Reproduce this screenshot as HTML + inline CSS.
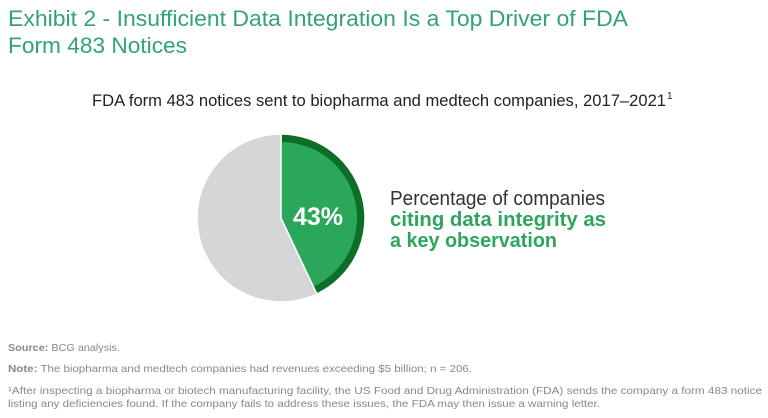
<!DOCTYPE html>
<html><head><meta charset="utf-8"><style>
html,body{margin:0;padding:0;background:#fff;}
svg{display:block;font-family:"Liberation Sans",sans-serif;}
</style></head><body>
<svg width="768" height="418" viewBox="0 0 768 418">
<text x="8" y="26" font-size="22" fill="#32a474" textLength="620" lengthAdjust="spacingAndGlyphs">Exhibit 2 - Insufficient Data Integration Is a Top Driver of FDA</text>
<text x="8" y="53" font-size="22" fill="#32a474" textLength="179" lengthAdjust="spacingAndGlyphs">Form 483 Notices</text>
<text x="92" y="106" font-size="17" fill="#222" textLength="574" lengthAdjust="spacingAndGlyphs">FDA form 483 notices sent to biopharma and medtech companies, 2017–2021</text>
<text x="667" y="99" font-size="10" fill="#222">1</text>
<g id="pie"></g>
<text x="318" y="225" font-size="25" font-weight="bold" fill="#fff" text-anchor="middle">43%</text>
<text x="390" y="205" font-size="20" fill="#333" textLength="215" lengthAdjust="spacingAndGlyphs">Percentage of companies</text>
<text x="390" y="226" font-size="20" font-weight="bold" fill="#2ea55c" textLength="216" lengthAdjust="spacingAndGlyphs">citing data integrity as</text>
<text x="390" y="247" font-size="20" font-weight="bold" fill="#2ea55c" textLength="167" lengthAdjust="spacingAndGlyphs">a key observation</text>
<text x="8" y="351" font-size="10.5" fill="#888" textLength="112" lengthAdjust="spacingAndGlyphs"><tspan font-weight="bold">Source:</tspan> BCG analysis.</text>
<text x="8" y="372" font-size="10.5" fill="#888" textLength="464" lengthAdjust="spacingAndGlyphs"><tspan font-weight="bold">Note:</tspan> The biopharma and medtech companies had revenues exceeding $5 billion; n = 206.</text>
<text x="8" y="394" font-size="10.5" fill="#888" textLength="754" lengthAdjust="spacingAndGlyphs">¹After inspecting a biopharma or biotech manufacturing facility, the US Food and Drug Administration (FDA) sends the company a form 483 notice</text>
<text x="8" y="407" font-size="10.5" fill="#888" textLength="592" lengthAdjust="spacingAndGlyphs">listing any deficiencies found. If the company fails to address these issues, the FDA may then issue a warning letter.</text>
</svg>
<script>
const categories = ["Citing data integrity", "Other"];
const values = [43, 57];
const cx = 281, cy = 218, r = 84, ri = 76;
const ns = "http://www.w3.org/2000/svg";
const g = document.getElementById("pie");
const total = values.reduce((a,b)=>a+b,0);
function pt(rad, frac){const a = frac*2*Math.PI; return [cx + rad*Math.sin(a), cy - rad*Math.cos(a)];}
function arc(rad, f0, f1){
  const [x0,y0]=pt(rad,f0), [x1,y1]=pt(rad,f1);
  const large = (f1-f0)>0.5?1:0;
  return `M${cx},${cy} L${x0},${y0} A${rad},${rad} 0 ${large} 1 ${x1},${y1} Z`;
}
let acc = 0;
values.forEach((v,i)=>{
  const f0 = acc/total, f1 = (acc+v)/total; acc += v;
  if(i===0){
    const outer = document.createElementNS(ns,"path");
    outer.setAttribute("d", arc(r,f0,f1));
    outer.setAttribute("fill","#0d6e25");
    outer.setAttribute("stroke","#fff");
    outer.setAttribute("stroke-width","1.5");
    
    
    g.appendChild(outer);
    const inner = document.createElementNS(ns,"path");
    inner.setAttribute("d", arc(ri,f0,f1));
    inner.setAttribute("fill","#2aa75a");
    
    
    g.appendChild(inner);
  } else {
    const p = document.createElementNS(ns,"path");
    p.setAttribute("d", arc(r,f0,f1));
    p.setAttribute("fill","#d6d6d6");
    p.setAttribute("stroke","#fff");
    p.setAttribute("stroke-width","1.5");
    
    
    g.appendChild(p);
  }
});
</script>
</body></html>
